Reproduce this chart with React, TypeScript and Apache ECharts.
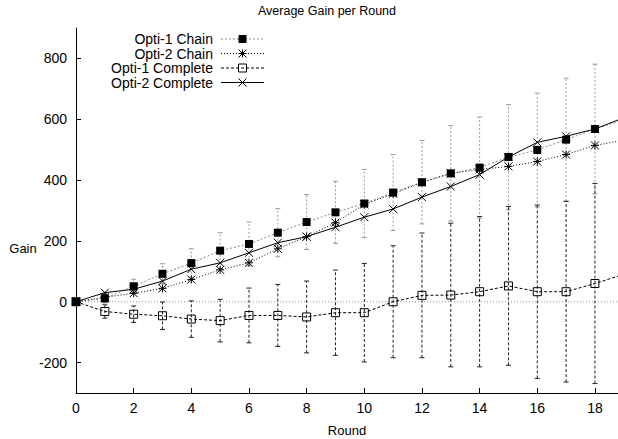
import React, { useEffect, useRef } from "react";
import * as echarts from "echarts";

const rounds = [0, 1, 2, 3, 4, 5, 6, 7, 8, 9, 10, 11, 12, 13, 14, 15, 16, 17, 18, 19];
const seriesNames = ["Opti-1 Chain", "Opti-2 Chain", "Opti-1 Complete", "Opti-2 Complete"];
const opti1Chain = [0, 11, 51, 92, 127, 168, 190, 227, 262, 294, 323, 359, 393, 422, 441, 476, 499, 533, 568, 598];
const opti1ChainErr = [0, 15, 23, 33, 47, 59, 72, 79, 90, 102, 112, 125, 137, 157, 166, 172, 187, 202, 213, 225];
const opti2Chain = [0, 15, 28, 44, 73, 105, 128, 174, 214, 260, 320, 355, 392, 422, 435, 445, 461, 484, 514, 531];
const opti1Complete = [0, -32, -41, -46, -57, -62, -45, -45, -50, -36, -36, 0, 21, 22, 33, 52, 33, 33, 60, 90];
const opti1CompleteErr = [0, 22, 27, 45, 60, 70, 90, 102, 118, 140, 162, 184, 205, 236, 247, 261, 285, 297, 329, 340];
const opti2Complete = [0, 30, 41, 68, 107, 128, 161, 194, 214, 245, 278, 305, 344, 379, 418, 476, 524, 544, 568, 605];
const zeroLine = [[0, 0], [20, 0]];
const yTicks = [-200, 0, 200, 400, 600, 800];
const xTicks = [0, 2, 4, 6, 8, 10, 12, 14, 16, 18];

const FONT = "Liberation Sans, Arial, Helvetica, sans-serif";
const X_PATH = "path://M0,0L10,10M10,0L0,10";
const STAR_PATH = "path://M0,0L10,10M10,0L0,10M5,0L5,10M0,5L10,5";
const BOX_PATH = "path://M0,0L10,0L10,10L0,10Z";

function pairs(vals: number[]) {
  return rounds.map((r, i) => [r, vals[i]]);
}
function errData(vals: number[], errs: number[]) {
  return rounds
    .map((r, i) => [r, vals[i] - errs[i], vals[i] + errs[i]])
    .filter((d, i) => errs[i] > 0);
}
function errRender(color: string, dash: number[]) {
  return (params: any, api: any) => {
    const x = api.value(0);
    const lo = api.coord([x, api.value(1)]);
    const hi = api.coord([x, api.value(2)]);
    const w = 2.5;
    const capStyle = { stroke: color, lineWidth: 1 };
    return {
      type: "group",
      children: [
        { type: "line", shape: { x1: lo[0], y1: lo[1], x2: hi[0], y2: hi[1] }, style: { stroke: color, lineWidth: 1, lineDash: dash } },
        { type: "line", shape: { x1: lo[0] - w, y1: lo[1], x2: lo[0] + w, y2: lo[1] }, style: capStyle },
        { type: "line", shape: { x1: hi[0] - w, y1: hi[1], x2: hi[0] + w, y2: hi[1] }, style: capStyle },
      ],
    };
  };
}

function legendGraphics() {
  const rowsY = [39, 53.5, 68, 82.5];
  const textX = 213;
  const x1 = 221;
  const x2 = 264;
  const mx = 242.5;
  const lineStyles = [
    { stroke: "#888", lineWidth: 1, lineDash: [2, 2] },
    { stroke: "#000", lineWidth: 1, lineDash: [1, 2] },
    { stroke: "#000", lineWidth: 1, lineDash: [3, 2] },
    { stroke: "#000", lineWidth: 1 },
  ];
  const els: any[] = [];
  seriesNames.forEach((name, i) => {
    const y = rowsY[i];
    els.push({
      type: "text",
      x: textX,
      y: y,
      style: { text: name, font: `14px ${FONT}`, fill: "#000", textAlign: "right", textVerticalAlign: "middle", align: "right", verticalAlign: "middle" },
    });
    els.push({ type: "line", shape: { x1, y1: y, x2, y2: y }, style: lineStyles[i] });
    const s = 4;
    if (i === 0) {
      els.push({ type: "rect", shape: { x: mx - s, y: y - s, width: 2 * s, height: 2 * s }, style: { fill: "#000" } });
    } else if (i === 2) {
      els.push({ type: "rect", shape: { x: mx - s, y: y - s, width: 2 * s, height: 2 * s }, style: { fill: "none", stroke: "#000", lineWidth: 1 } });
    } else {
      const st = { stroke: "#000", lineWidth: 1 };
      els.push({ type: "line", shape: { x1: mx - s, y1: y - s, x2: mx + s, y2: y + s }, style: st });
      els.push({ type: "line", shape: { x1: mx - s, y1: y + s, x2: mx + s, y2: y - s }, style: st });
      if (i === 1) {
        els.push({ type: "line", shape: { x1: mx, y1: y - s, x2: mx, y2: y + s }, style: st });
        els.push({ type: "line", shape: { x1: mx - s, y1: y, x2: mx + s, y2: y }, style: st });
      }
    }
  });
  return els;
}

export default function App() {
  const ref = useRef<HTMLDivElement>(null);
  useEffect(() => {
    const chart = echarts.init(ref.current!, null, { renderer: "svg" });
    const option: any = {
      animation: false,
      backgroundColor: "#fff",
      grid: { left: 76, top: 28, right: 0, bottom: 46, containLabel: false },
      xAxis: {
        type: "value",
        min: 0,
        max: 18.8,
        interval: 2,
        axisLine: { show: true, onZero: false, lineStyle: { color: "#000", width: 1 } },
        axisTick: { show: true, inside: true, length: 5, lineStyle: { color: "#000" }, customValues: xTicks },
        axisLabel: { color: "#000", fontFamily: FONT, fontSize: 14, margin: 8, customValues: xTicks },
        splitLine: { show: false },
      },
      yAxis: {
        type: "value",
        min: -300,
        max: 900,
        interval: 100,
        axisLine: { show: true, onZero: false, lineStyle: { color: "#000", width: 1 } },
        axisTick: { show: true, inside: true, length: 5, lineStyle: { color: "#000" }, customValues: yTicks },
        axisLabel: { color: "#000", fontFamily: FONT, fontSize: 14, margin: 9, customValues: yTicks },
        splitLine: { show: false },
      },
      graphic: [
        { type: "text", x: 327, y: 11, style: { text: "Average Gain per Round", font: `12.5px ${FONT}`, fill: "#000", textAlign: "center", textVerticalAlign: "middle", align: "center", verticalAlign: "middle" } },
        { type: "text", x: 23, y: 248, style: { text: "Gain", font: `13px ${FONT}`, fill: "#000", textAlign: "center", textVerticalAlign: "middle", align: "center", verticalAlign: "middle" } },
        { type: "text", x: 347, y: 430, style: { text: "Round", font: `13px ${FONT}`, fill: "#000", textAlign: "center", textVerticalAlign: "middle", align: "center", verticalAlign: "middle" } },
        ...legendGraphics(),
      ],
      series: [
        {
          type: "line",
          name: "zero",
          data: zeroLine,
          symbol: "none",
          clip: true,
          silent: true,
          lineStyle: { color: "#999", width: 1, type: [1, 2] },
          z: 0,
        },
        {
          type: "custom",
          name: "Opti-1 Chain err",
          data: errData(opti1Chain, opti1ChainErr),
          encode: { x: 0, y: [1, 2] },
          renderItem: errRender("#999", [2, 2]),
          clip: true,
          z: 1,
          silent: true,
        },
        {
          type: "custom",
          name: "Opti-1 Complete err",
          data: errData(opti1Complete, opti1CompleteErr),
          encode: { x: 0, y: [1, 2] },
          renderItem: errRender("#222", [3, 2]),
          clip: true,
          z: 1,
          silent: true,
        },
        {
          type: "line",
          name: seriesNames[0],
          data: pairs(opti1Chain),
          symbol: "rect",
          symbolSize: 8,
          showAllSymbol: true,
          clip: true,
          itemStyle: { color: "#000" },
          lineStyle: { color: "#888", width: 1, type: [2, 2] },
          z: 3,
        },
        {
          type: "line",
          name: seriesNames[1],
          data: pairs(opti2Chain),
          symbol: STAR_PATH,
          symbolSize: 8,
          showAllSymbol: true,
          clip: true,
          itemStyle: { color: "transparent", borderColor: "#000", borderWidth: 1 },
          lineStyle: { color: "#000", width: 1, type: [1, 2] },
          z: 3,
        },
        {
          type: "line",
          name: seriesNames[2],
          data: pairs(opti1Complete),
          symbol: BOX_PATH,
          symbolSize: 8,
          showAllSymbol: true,
          clip: true,
          itemStyle: { color: "transparent", borderColor: "#000", borderWidth: 1 },
          lineStyle: { color: "#000", width: 1, type: [3, 2] },
          z: 3,
        },
        {
          type: "line",
          name: seriesNames[3],
          data: pairs(opti2Complete),
          symbol: X_PATH,
          symbolSize: 8,
          showAllSymbol: true,
          clip: true,
          itemStyle: { color: "transparent", borderColor: "#000", borderWidth: 1 },
          lineStyle: { color: "#000", width: 1 },
          z: 3,
        },
      ],
    };
    chart.setOption(option);
    return () => chart.dispose();
  }, []);
  return <div ref={ref} style={{ position: "absolute", left: 0, top: 0, width: 618, height: 439 }} />;
}
